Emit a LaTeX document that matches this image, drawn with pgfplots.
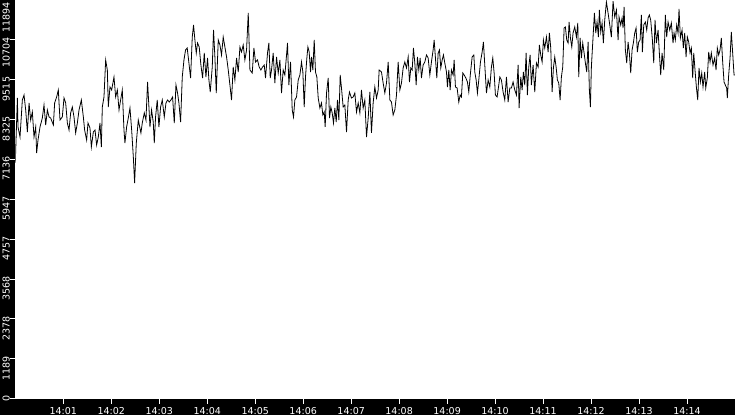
\documentclass[border=0pt]{standalone}
\usepackage{fontspec}
\setmainfont{DejaVu Sans}
\usepackage{pgfplots}
\pgfplotsset{compat=1.18}
\begin{document}
\begin{tikzpicture}
\fill[black] (-15.3pt,-16.3pt) rectangle (719.7pt,398.7pt);
\begin{axis}[
  scale only axis, width=719.7pt, height=398.7pt,
  xmin=0, xmax=900, ymin=0, ymax=11894,
  axis background/.style={fill=white},
  axis line style={draw=none},
  tick pos=left, tick align=outside,
  major tick length=5pt,
  major tick style={white, line width=1pt},
  xtick={60,120,...,840},
  xticklabels={14:01,14:02,14:03,14:04,14:05,14:06,14:07,14:08,14:09,14:10,14:11,14:12,14:13,14:14},
  ytick={0,1189,2378,3568,4757,5947,7136,8325,9515,10704},
  yticklabels={{0\hspace{-4pt}},1189,2378,3568,4757,5947,7136,8325,9515,10704},
  extra y ticks={11894},
  extra y tick labels={11894},
  extra y tick style={major tick style={white, line width=1pt}, yticklabel style={xshift=-4.8pt}},
  ticklabel style={font=\fontsize{9.5}{10}\selectfont, text=white, inner sep=0pt},
  xticklabel style={anchor=base, yshift=-10.3pt},
  yticklabel style={xshift=-0.3pt, yshift=3pt, rotate=90, anchor=south east},
]
\addplot[black, line width=0.8pt] coordinates {
(0,7032) (2.6,8971) (3.4,8106) (5.9,7807) (8.8,8911) (10.9,9060) (13,8613) (15.1,7956) (17.2,8821) (19.2,8314) (21.3,8553) (23.4,7807) (25.5,8106) (26.7,7330) (28.4,7718) (30.9,8106) (33.8,8374) (35.9,8762) (38,8165) (40.1,8613) (42.2,8404) (44.2,8374) (47.6,8165) (49.2,8821) (51.7,9001) (53.8,9209) (55.9,8314) (58.8,8404) (60.9,8971) (63,8821) (65.1,8225) (67.2,8016) (69.2,8523) (71.3,8702) (73.4,8404) (75.5,7927) (77.6,8225) (79.7,8613) (82.6,8911) (85.1,8404) (86.7,8016) (89.2,7718) (90.9,8225) (93.4,8076) (95.1,7509) (97.6,7956) (99.7,8016) (101.7,7569) (103.8,7807) (105.9,8225) (107.6,7509) (108.8,8702) (110.9,9001) (113,10104) (115.1,9806) (116.3,8702) (118.4,9299) (120.5,9209) (123.4,9597) (125.5,9001) (127.6,9209) (129.7,8613) (131.7,8911) (133.8,9209) (135.9,8016) (137.1,7628) (139.2,8106) (141.3,8374) (143.4,8672) (145.5,8016) (147.6,7211) (149.2,6435) (151.3,7628) (153.8,8314)
(157.1,7927) (158.8,8225) (161.3,8523) (163.4,8314) (165.4,9448) (167.1,8702) (168.4,8106) (170.4,8613) (172.5,8255) (173.8,7628) (175.4,8404) (177.5,8911) (179.6,8106) (181.7,8702) (183.8,8911) (186.3,8404) (188.4,8821) (190.4,8911) (192.5,8851) (194.6,8911) (196.7,9001) (198.8,8225) (200.9,9358) (202.9,9120) (204.6,8821) (206.7,8255) (208.8,9597) (210.9,10104) (212.9,10403) (215,10462) (217.1,10015) (219.2,9567) (221.3,10790) (222.9,11148) (224.6,10701) (226.3,10313) (227.9,10611) (230,10492) (232.1,9955) (234.2,9567) (236.3,10313) (238.4,9597) (240.4,10164) (242.1,9508) (243.8,9150) (246.3,9895) (247.9,10999) (249.6,10194) (251.3,9120) (253.8,10701) (255.9,10552) (257.9,10253) (260,10790) (262.1,10492) (264.2,10194) (266.3,9806) (268.4,9358) (270.4,8911) (272.5,9895) (274.6,9508) (276.7,10164) (278.8,9746) (280.9,10492) (282.9,10343) (285,10552) (287.1,10104) (289.2,10403) (291.3,11506) (293.4,9806) (296.3,9716) (298.4,10462) (300.4,10045) (302.9,10104) (305,9895)
(307.1,9806) (309.2,9895) (311.3,9955) (312.9,9567) (315.4,10313) (317.1,10611) (318.8,9567) (320.4,9806) (322.5,10313) (324.6,9418) (326.7,10194) (328.8,9716) (330.9,10104) (332.9,9120) (335,9806) (337.1,9657) (339.2,10253) (340.4,10611) (342.1,9358) (344.2,10045) (346.3,8613) (347.9,8404) (349.6,8911) (351.7,9001) (353.8,9508) (355.9,9657) (357.9,10045) (359.6,9746) (361.3,8702) (362.9,9597) (364.6,10164) (365.9,10492) (367.5,10343) (369.2,9746) (370.4,10194) (372.1,9806) (373.8,10701) (375.4,9746) (377.1,9597) (378.8,8971) (380.9,8672) (382.9,8821) (384.6,8464) (386.3,8553) (387.5,8106) (389.2,9120) (391.3,9567) (392.9,8374) (394.6,8702) (396.3,8523) (397.9,8225) (399.6,8672) (401.3,8255) (402.9,8911) (404.6,8314) (406.3,9657) (407.9,9269) (410,8702) (412.1,8762) (414.2,7956) (416.3,8911) (417.9,9150) (420.4,8971) (422.5,9001) (424.6,9120) (426.7,8553) (428.8,8821) (430.9,8523) (432.9,9209) (435,8672) (437.1,8911) (439.2,7807) (441.3,8374) (443.4,9150) (445.4,7927) (447.5,8821) (449.6,9299) (451.7,8971) (453.8,9209) (455,9806)
(457.9,9746) (460,9418) (462.1,9120) (464.2,9418) (466.3,10045) (468.4,8911) (470.4,8851) (472.5,8464) (474.6,8613) (476.7,9060) (478.8,10045) (480.9,9209) (482.9,9418) (485,9866) (487.1,10045) (489.2,9866) (491.3,10194) (492.9,9448) (494.6,9866) (496.3,9806) (497.9,10462) (499.6,10015) (501.3,9358) (502.9,10194) (504.6,9806) (506.3,10164) (507.9,9567) (510,9955) (512.1,10045) (514.2,10253) (516.3,10164) (518.4,9657) (520.4,10045) (522.5,10403) (523.8,10701) (525.4,10164) (527.1,9567) (528.8,10313) (530.4,10403) (532.1,9866) (533.8,10104) (535.4,10253) (537.1,10015) (539.2,9746) (540.4,9299) (542.1,9806) (543.8,9209) (545.4,9806) (547.5,9657) (548.8,10104) (550.4,9299) (552.5,9269) (554.6,8851) (556.3,9060) (557.9,9001) (559.6,9716) (561.3,9657) (563.4,9567) (565.4,9448) (567.1,9150) (569.2,9716) (571.3,10194) (573.4,10253) (574.6,9746) (576.3,9508) (577.9,9120) (579.6,9508) (581.7,10045) (583.8,10343) (585.4,10641) (587.1,9955) (589.2,9120) (591.3,9508) (593.4,9299) (595.4,9895) (597.1,10164) (598.8,9716) (600.4,9060) (602.5,9001) (604.6,9358)
(605.9,9597) (607.9,9508) (610,9150) (612.1,8911) (614.2,9597) (616.3,8851) (618.4,9269) (620.4,9269) (622.5,9448) (624.6,9209) (626.7,9060) (628.8,9955) (630,8672) (632.1,9597) (633.8,9209) (635.4,9746) (637.1,9358) (638.8,10313) (640.4,9060) (642.1,9895) (643.8,10253) (645.4,9358) (647.5,9955) (649.6,9150) (651.7,10015) (653.8,9895) (655.4,10552) (657.1,10253) (658.8,10045) (660.4,10701) (662.1,10462) (664.2,10790) (666.3,10343) (667.9,10910) (669.6,10462) (671.3,9150) (672.9,9866) (674.6,10194) (676.3,9895) (677.9,9508) (679.6,9418) (681.3,8911) (682.9,9597) (684.6,9895) (686.3,11059) (687.9,11089) (689.6,10701) (691.3,10611) (692.5,11238) (694.2,10760) (695.9,10492) (697.5,10910) (699.6,11089) (701.7,10790) (703.4,11208) (704.6,9597) (706.3,10760) (707.9,10164) (709.6,10611) (711.3,10313) (712.9,10015) (714.6,9746) (716.3,10641) (717.9,9209) (719.2,8702) (720.4,9895) (722.5,10790) (724.2,11506) (725.9,10910) (727.5,11238) (729.2,10790) (730.4,11596) (732.1,10939) (733.8,11208) (735.4,10611) (737.1,11297) (739.2,11834) (741.3,11506) (743.4,11148) (745.4,10790) (747.5,11860) (749.6,11387) (751.7,11596) (753.8,10701)
(755,11387) (757.1,11148) (758.8,11357) (760,11059) (761.3,11685) (762.9,10403) (764.6,10015) (766.3,10641) (767.9,10313) (769.6,9716) (771.3,10403) (772.9,10611) (774.6,10910) (776.3,11059) (777.9,10343) (779.6,10641) (781.3,10701) (782.9,11447) (784.2,10343) (785.9,11148) (787.9,11238) (789.6,10999) (791.3,11357) (792.9,11447) (794.6,11297) (796.7,10701) (798.4,10015) (800,11297) (801.7,10611) (803.8,10999) (805.4,10313) (807.1,9657) (808.8,10313) (810.9,9806) (812.9,11447) (814.6,10790) (816.3,11238) (818.4,10999) (820.4,11208) (822.5,10611) (823.8,10910) (825.4,10701) (827.1,11148) (828.8,10910) (830,11626) (831.7,10760) (833.8,10999) (835.4,10462) (837.1,10910) (838.8,10194) (840.4,10790) (842.1,10641) (843.8,10313) (845.4,10462) (847.1,9567) (848.4,10313) (850,9806) (851.7,9299) (853.4,8911) (855,9866) (856.7,9448) (858.4,9716) (860,9299) (862.1,9746) (863.4,9269) (865.4,9567) (867.1,10343) (868.8,10045) (870.4,10313) (872.5,9955) (874.6,10164) (876.3,9806) (877.9,10462) (879.6,10253) (881.3,10403) (882.9,10760) (884.6,10045) (886.3,9448) (887.9,9358) (889.6,9269) (890.4,8971) (892.1,9657) (893.8,10164) (895.4,10939) (897.1,10313) (898.8,9657) (900,9657)
};
\end{axis}
\pgfresetboundingbox
\useasboundingbox (-15.3pt,-16.3pt) rectangle (719.7pt,398.7pt);
\end{tikzpicture}
\end{document}
